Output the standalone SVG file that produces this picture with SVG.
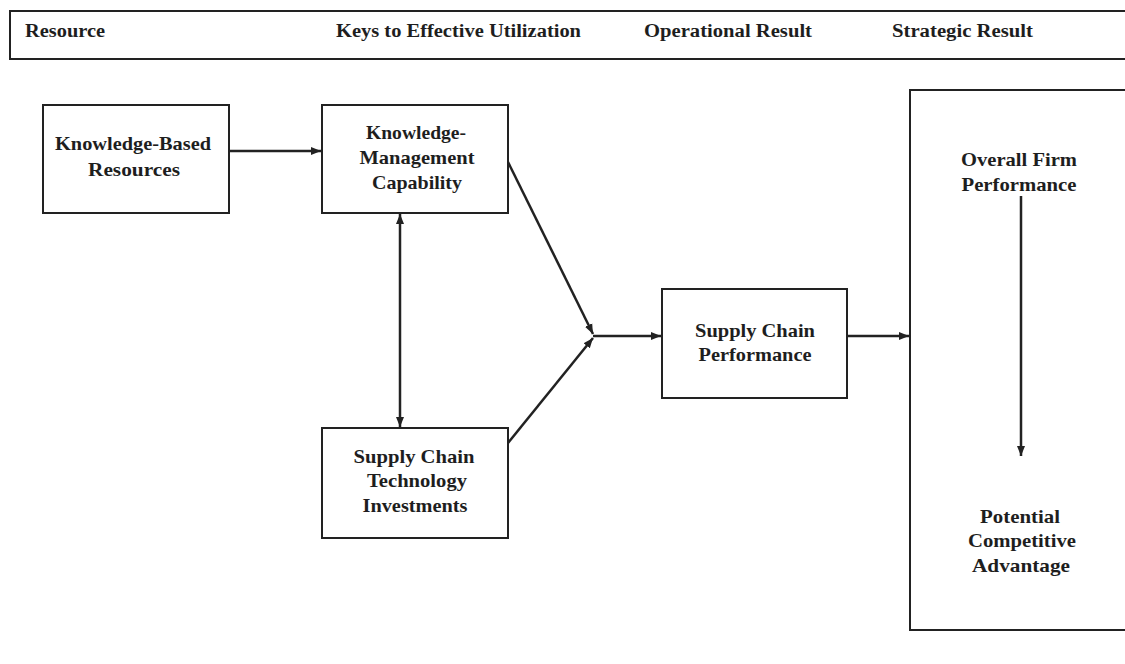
<svg xmlns="http://www.w3.org/2000/svg" width="1125" height="664" viewBox="0 0 1125 664">
  <defs>
    <style>
      .box { fill: #ffffff; stroke: #222; stroke-width: 2; }
      .lbl { font-family: "Liberation Serif", "Times New Roman", serif; font-weight: bold; font-size: 19px; fill: #1e1e1e; text-anchor: middle; }
      .hdr { font-family: "Liberation Serif", "Times New Roman", serif; font-weight: bold; font-size: 18px; fill: #1e1e1e; }
      .con { fill: none; stroke: #222; stroke-width: 2.5; }
    </style>
    <marker id="arr" viewBox="0 0 10 10" refX="10" refY="5" markerWidth="4" markerHeight="4" orient="auto-start-reverse" markerUnits="strokeWidth">
      <path d="M0,1 L10,5 L0,9 z" fill="#222"/>
    </marker>
  </defs>
  <rect width="1125" height="664" fill="#ffffff"/>

  <!-- column header band -->
  <g id="header">
    <rect x="10" y="11" width="1125" height="48" class="box"/>
    <text class="hdr" x="25" y="37" textLength="80" lengthAdjust="spacingAndGlyphs">Resource</text>
    <text class="hdr" x="336" y="37" textLength="245" lengthAdjust="spacingAndGlyphs">Keys to Effective Utilization</text>
    <text class="hdr" x="644" y="37" textLength="168" lengthAdjust="spacingAndGlyphs">Operational Result</text>
    <text class="hdr" x="892" y="37" textLength="141" lengthAdjust="spacingAndGlyphs">Strategic Result</text>
  </g>

  <g id="knowledge-based-resources">
    <rect x="43" y="105" width="186" height="108" class="box"/>
    <text class="lbl" x="133" y="150" textLength="156" lengthAdjust="spacingAndGlyphs">Knowledge-Based</text>
    <text class="lbl" x="134" y="176" textLength="92" lengthAdjust="spacingAndGlyphs">Resources</text>
  </g>

  <g id="knowledge-management-capability">
    <rect x="322" y="105" width="186" height="108" class="box"/>
    <text class="lbl" x="416" y="139" textLength="100" lengthAdjust="spacingAndGlyphs">Knowledge-</text>
    <text class="lbl" x="417" y="164" textLength="115" lengthAdjust="spacingAndGlyphs">Management</text>
    <text class="lbl" x="417" y="189" textLength="90" lengthAdjust="spacingAndGlyphs">Capability</text>
  </g>

  <g id="supply-chain-technology-investments">
    <rect x="322" y="428" width="186" height="110" class="box"/>
    <text class="lbl" x="414" y="463" textLength="121" lengthAdjust="spacingAndGlyphs">Supply Chain</text>
    <text class="lbl" x="417" y="487" textLength="100" lengthAdjust="spacingAndGlyphs">Technology</text>
    <text class="lbl" x="415" y="512" textLength="105" lengthAdjust="spacingAndGlyphs">Investments</text>
  </g>

  <g id="supply-chain-performance">
    <rect x="662" y="289" width="185" height="109" class="box"/>
    <text class="lbl" x="755" y="337" textLength="120" lengthAdjust="spacingAndGlyphs">Supply Chain</text>
    <text class="lbl" x="755" y="361" textLength="113" lengthAdjust="spacingAndGlyphs">Performance</text>
  </g>

  <g id="strategic-outcomes">
    <rect x="910" y="90" width="230" height="540" class="box"/>
    <text class="lbl" x="1019" y="166" textLength="116" lengthAdjust="spacingAndGlyphs">Overall Firm</text>
    <text class="lbl" x="1019" y="191" textLength="115" lengthAdjust="spacingAndGlyphs">Performance</text>
    <text class="lbl" x="1020" y="523" textLength="80" lengthAdjust="spacingAndGlyphs">Potential</text>
    <text class="lbl" x="1022" y="547" textLength="108" lengthAdjust="spacingAndGlyphs">Competitive</text>
    <text class="lbl" x="1021" y="572" textLength="98" lengthAdjust="spacingAndGlyphs">Advantage</text>
  </g>

  <g id="connectors">
    <line class="con" x1="229" y1="151" x2="321" y2="151" marker-end="url(#arr)"/>
    <line class="con" x1="400" y1="214" x2="400" y2="427" marker-start="url(#arr)" marker-end="url(#arr)"/>
    <line class="con" x1="508" y1="162" x2="593" y2="334" marker-end="url(#arr)"/>
    <line class="con" x1="508" y1="443" x2="593" y2="338" marker-end="url(#arr)"/>
    <line class="con" x1="593" y1="336" x2="661" y2="336" marker-end="url(#arr)"/>
    <line class="con" x1="847" y1="336" x2="909" y2="336" marker-end="url(#arr)"/>
    <line class="con" x1="1021" y1="196" x2="1021" y2="456" marker-end="url(#arr)"/>
  </g>
</svg>
